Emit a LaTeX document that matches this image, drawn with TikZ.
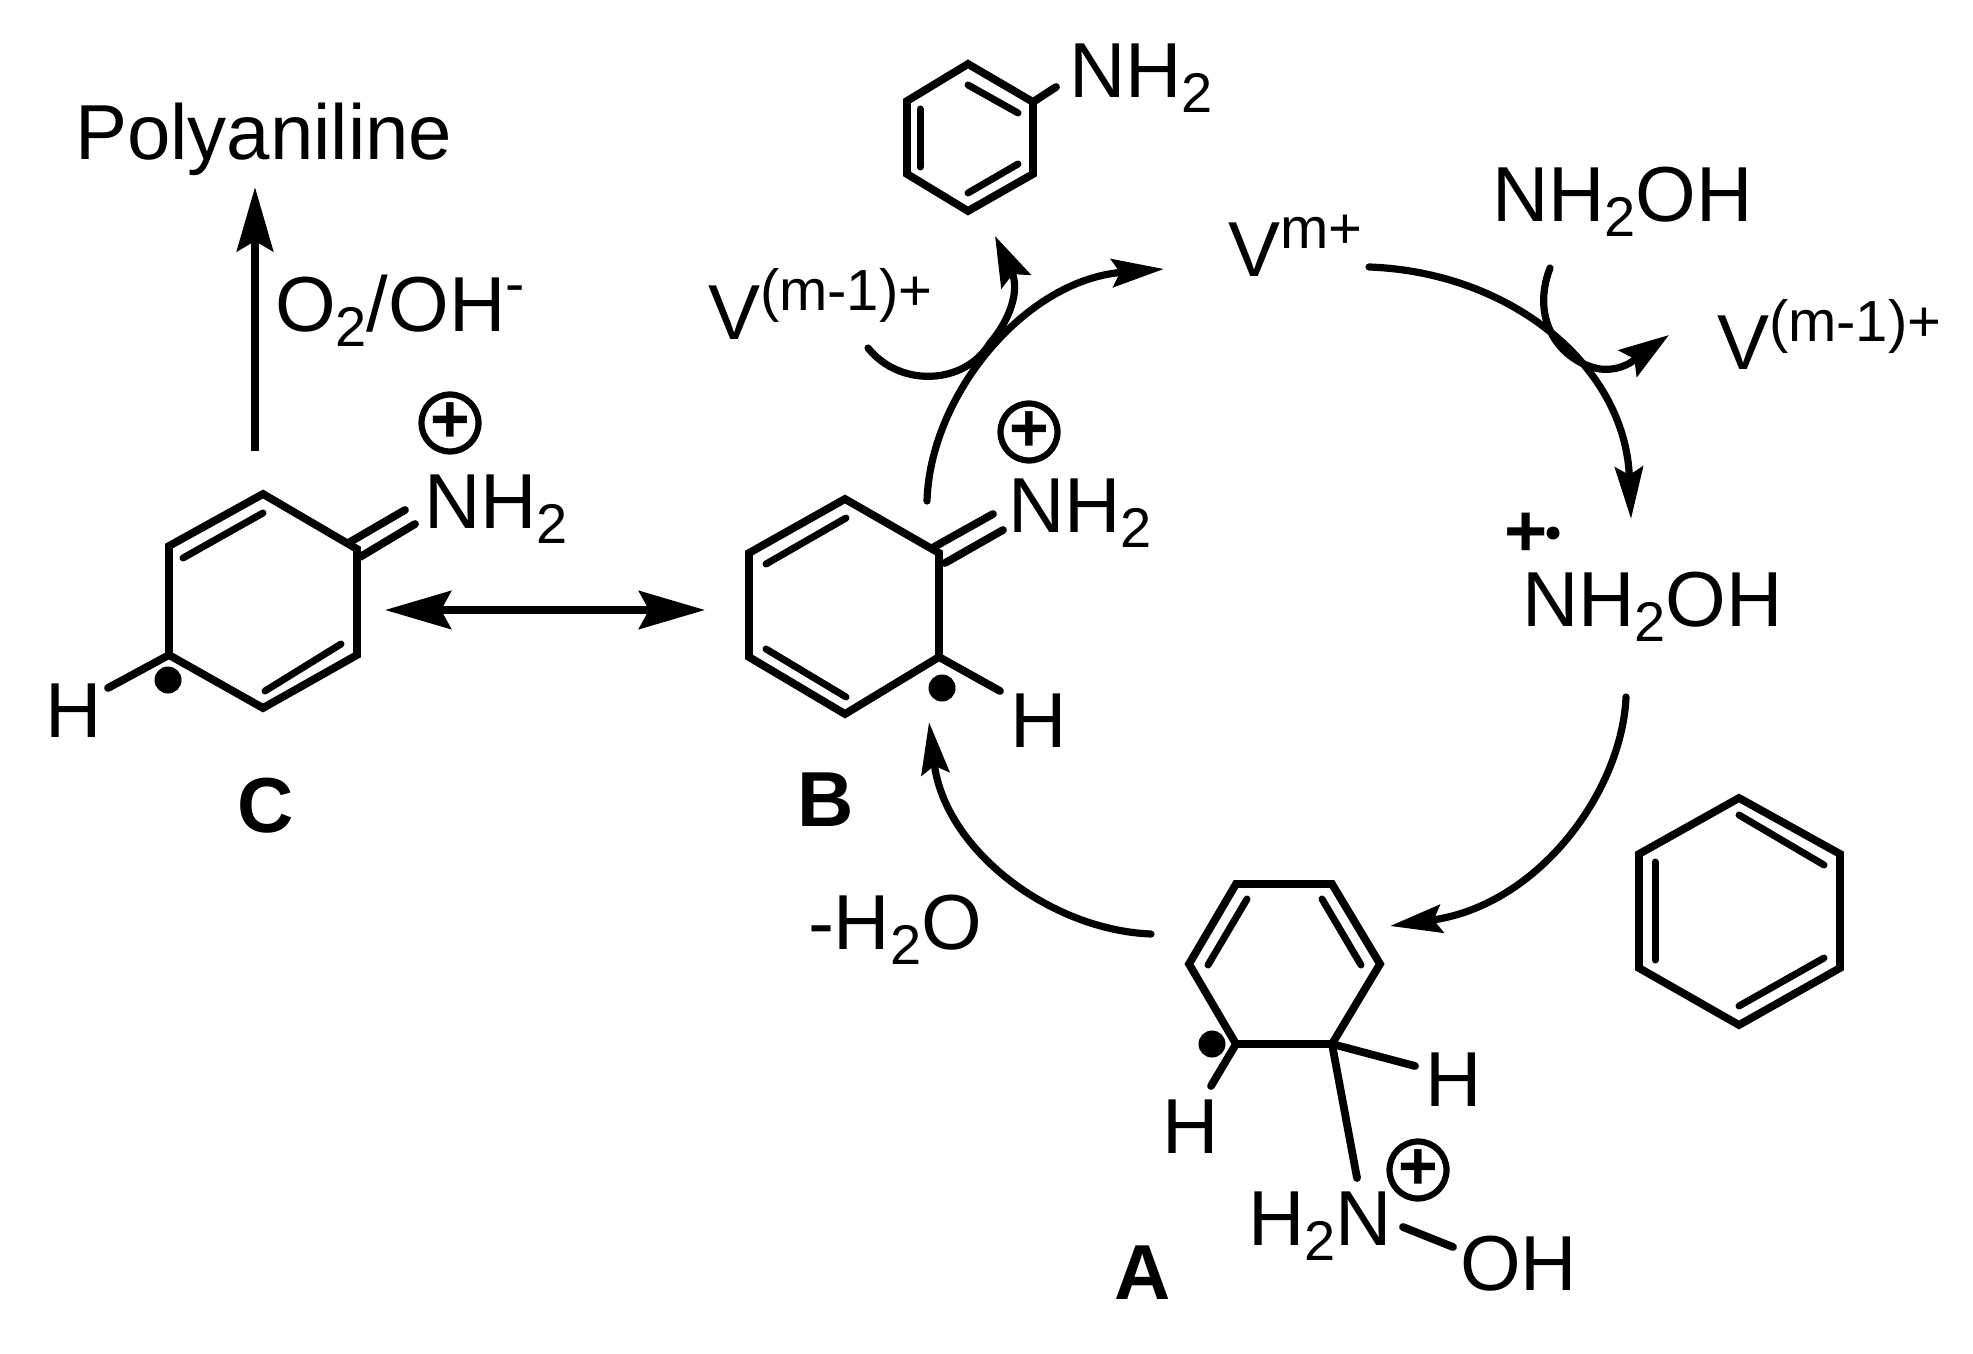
\documentclass[tikz,border=0pt]{standalone}
\usepackage{fontspec}
\setmainfont{Liberation Sans}
\usetikzlibrary{arrows.meta}
\newcommand{\sbs}[1]{\raisebox{-7.5pt}{\fontsize{28pt}{28pt}\selectfont #1}}
\newcommand{\sps}[1]{\raisebox{14pt}{\fontsize{29pt}{29pt}\selectfont #1}}
\tikzset{
  bond/.style={line width=3.9pt,line cap=round,line join=miter},
  inner/.style={line width=3.5pt,line cap=round},
  txt/.style={inner sep=0pt,outer sep=0pt,anchor=base west,yshift=-1pt,font=\fontsize{39pt}{39pt}\selectfont},
  lab/.style={inner sep=0pt,outer sep=0pt,anchor=base,font=\fontsize{39pt}{39pt}\selectfont\bfseries},
  pluscirc/.style={circle,draw,line width=3.1pt,minimum size=28.5pt,inner sep=0pt,font=\fontsize{34pt}{34pt}\selectfont\bfseries},
  plustxt/.style={inner sep=0pt,font=\fontsize{37pt}{37pt}\selectfont\bfseries},
  radical/.style={circle,fill=black,inner sep=0pt,minimum size=13.5pt},
  sdot/.style={circle,fill=black,inner sep=0pt,minimum size=6.5pt},
  bigarrow/.style={line width=4.4pt,-{Stealth[length=32pt,width=18pt,inset=5pt]}},
  dblarrow/.style={line width=3.8pt,{Stealth[length=33pt,width=19pt,inset=5pt]}-{Stealth[length=33pt,width=19pt,inset=5pt]}},
  curvearrow/.style={line width=3.6pt,line cap=round,-{Stealth[length=26pt,width=14pt,inset=4pt]}},
  smallarrow/.style={line width=3.6pt,line cap=round,-{Stealth[length=25pt,width=16pt,inset=4pt]}}
}
\begin{document}
\begin{tikzpicture}[x=0.5pt,y=-0.5pt]
\useasboundingbox (0,0) rectangle (1973,1353);
% ---------- ring C
\coordinate (c1) at (263,494); \coordinate (c2) at (357,549); \coordinate (c3) at (357,655);
\coordinate (c4) at (263,708); \coordinate (c5) at (169,655); \coordinate (c6) at (169,546);
\draw[bond] (c1)--(c2)--(c3)--(c4)--(c5)--(c6)--cycle;
\coordinate (ci1) at (183,558); \coordinate (ci2) at (263,513);
\coordinate (ci3) at (341,644); \coordinate (ci4) at (265,691);
\draw[inner] (ci1)--(ci2); \draw[inner] (ci3)--(ci4);
\coordinate (cn1) at (350,542); \coordinate (cn2) at (405,510);
\coordinate (cn3) at (360,557); \coordinate (cn4) at (415,524);
\draw[bond] (cn1)--(cn2); \draw[bond] (cn3)--(cn4);
\coordinate (chb) at (108,688);
\draw[bond] (c5)--(chb);
\node[radical] (cdot) at (168,680) {};
\node[txt] (ch) at (45,735) {H};
\node[txt] (cnh) at (424,526) {NH\sbs{2}};
\node[pluscirc] (cplus) at (450,423) {+};
\node[lab] (clab) at (266,832) {C};
% ---------- ring C up arrow
\coordinate (up0) at (255,451); \coordinate (up1) at (255,187);
\draw[bigarrow] (up0)--(up1);
\node[txt] (poly) at (75,158) {Polyaniline};
\node[txt] (oxy) at (275,330) {O\sbs{2}/OH\sps{-}};
% ---------- double arrow
\coordinate (da0) at (385,610); \coordinate (da1) at (705,610);
\draw[dblarrow] (da0)--(da1);
% ---------- ring B
\coordinate (b1) at (845,499); \coordinate (b2) at (939,553); \coordinate (b3) at (939,657);
\coordinate (b4) at (845,714); \coordinate (b5) at (749,657); \coordinate (b6) at (749,553);
\draw[bond] (b1)--(b2)--(b3)--(b4)--(b5)--(b6)--cycle;
\coordinate (bi1) at (766,564); \coordinate (bi2) at (846,518);
\coordinate (bi3) at (766,649); \coordinate (bi4) at (846,697);
\draw[inner] (bi1)--(bi2); \draw[inner] (bi3)--(bi4);
\coordinate (bn1) at (934,547); \coordinate (bn2) at (993,514);
\coordinate (bn3) at (945,563); \coordinate (bn4) at (1003,530);
\draw[bond] (bn1)--(bn2); \draw[bond] (bn3)--(bn4);
\coordinate (bhb) at (1000,691);
\draw[bond] (b3)--(bhb);
\node[radical] (bdot) at (942,688) {};
\node[txt] (bh) at (1010,745) {H};
\node[txt] (bnh) at (1008,530) {NH\sbs{2}};
\node[pluscirc] (bplus) at (1029,432) {+};
\node[lab] (blab) at (826,826) {B};
% ---------- aniline
\coordinate (p1) at (968,64); \coordinate (p2) at (1033,102); \coordinate (p3) at (1033,174);
\coordinate (p4) at (968,211); \coordinate (p5) at (907,174); \coordinate (p6) at (907,101);
\draw[bond] (p1)--(p2)--(p3)--(p4)--(p5)--(p6)--cycle;
\coordinate (pi1) at (968,85); \coordinate (pi2) at (1018,113);
\coordinate (pi3) at (920,109); \coordinate (pi4) at (920,167);
\coordinate (pi5) at (968,193); \coordinate (pi6) at (1018,164);
\draw[inner] (pi1)--(pi2); \draw[inner] (pi3)--(pi4); \draw[inner] (pi5)--(pi6);
\coordinate (pn) at (1056,87);
\draw[bond] (p2)--(pn);
\node[txt] (pnh) at (1069,96) {NH\sbs{2}};
% ---------- vanadium labels
\node[txt] (v1) at (708,337) {V\sps{(m-1)+}};
\node[txt] (v2) at (1228,275) {V\sps{m+}};
\node[txt] (v3) at (1717,368) {V\sps{(m-1)+}};
\node[txt] (nho1) at (1492,220) {NH\sbs{2}OH};
\node[txt] (nho2) at (1522,624) {NH\sbs{2}OH};
\node[plustxt] (rp) at (1526,535) {+};
\node[sdot] (rd) at (1553,533) {};
% ---------- cycle arrows
\coordinate (a1s) at (927,501); \coordinate (a1e) at (1164,269);
\draw[curvearrow] (a1s) .. controls (930,395) and (1025,280) .. (a1e);
\coordinate (a2s) at (868,348); \coordinate (a2m) at (990,343); \coordinate (a2e) at (995,236);
\draw[smallarrow] (a2s) .. controls (900,388) and (965,385) .. (a2m) .. controls (1010,320) and (1020,290) .. (a2e);
\coordinate (a3s) at (1369,267); \coordinate (a3e) at (1631,519);
\draw[curvearrow] (a3s) .. controls (1510,272) and (1625,365) .. (a3e);
\coordinate (a4s) at (1550,268); \coordinate (a4m) at (1600,369); \coordinate (a4e) at (1669,335);
\draw[smallarrow] (a4s) .. controls (1530,320) and (1560,362) .. (a4m) .. controls (1625,372) and (1640,355) .. (a4e);
\coordinate (a5s) at (1626,697); \coordinate (a5e) at (1390,926);
\draw[curvearrow] (a5s) .. controls (1622,790) and (1540,905) .. (a5e);
\coordinate (a6s) at (1151,934); \coordinate (a6e) at (929,722);
\draw[curvearrow] (a6s) .. controls (1050,930) and (945,850) .. (a6e);
\node[txt] (h2o) at (808,947) {-H\sbs{2}O};
% ---------- ring A
\coordinate (a1) at (1236,884); \coordinate (a2) at (1332,884); \coordinate (a3) at (1380,964);
\coordinate (a4) at (1332,1044); \coordinate (a5) at (1236,1044); \coordinate (a6) at (1189,964);
\draw[bond] (a1)--(a2)--(a3)--(a4)--(a5)--(a6)--cycle;
\coordinate (ai1) at (1247,899); \coordinate (ai2) at (1208,965);
\coordinate (ai3) at (1322,899); \coordinate (ai4) at (1361,965);
\draw[inner] (ai1)--(ai2); \draw[inner] (ai3)--(ai4);
\coordinate (ahl) at (1211,1086); \coordinate (ahr) at (1415,1066); \coordinate (an) at (1357,1178);
\draw[bond] (a5)--(ahl); \draw[bond] (a4)--(ahr); \draw[bond] (a4)--(an);
\node[radical] (adot) at (1212,1044) {};
\node[txt] (ahl1) at (1162,1151) {H};
\node[txt] (ahr1) at (1425,1104) {H};
\node[txt] (ah2n) at (1248,1243) {H\sbs{2}N};
\node[pluscirc] (aplus) at (1418,1170) {+};
\coordinate (no1) at (1403,1227); \coordinate (no2) at (1453,1247);
\draw[bond] (no1)--(no2);
\node[txt] (aoh) at (1460,1288) {OH};
\node[lab] (alab) at (1143,1299) {A};
% ---------- benzene
\coordinate (z1) at (1739,798); \coordinate (z2) at (1840,854); \coordinate (z3) at (1840,968);
\coordinate (z4) at (1739,1025); \coordinate (z5) at (1639,968); \coordinate (z6) at (1639,854);
\draw[bond] (z1)--(z2)--(z3)--(z4)--(z5)--(z6)--cycle;
\coordinate (zi1) at (1739,815); \coordinate (zi2) at (1824,865);
\coordinate (zi3) at (1655,862); \coordinate (zi4) at (1655,960);
\coordinate (zi5) at (1739,1006); \coordinate (zi6) at (1824,958);
\draw[inner] (zi1)--(zi2); \draw[inner] (zi3)--(zi4); \draw[inner] (zi5)--(zi6);
\end{tikzpicture}
\end{document}
